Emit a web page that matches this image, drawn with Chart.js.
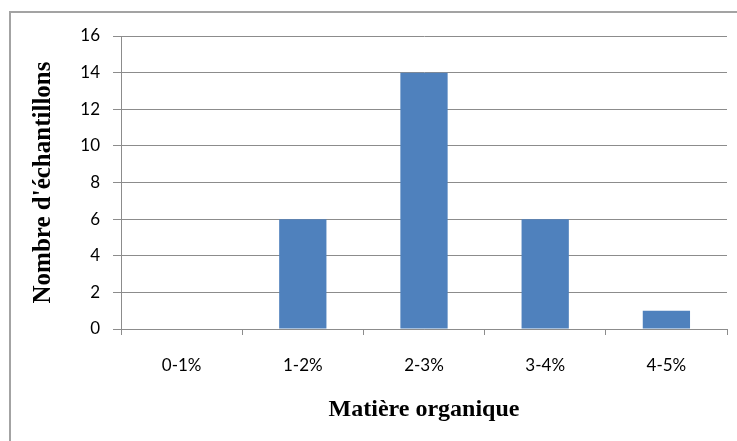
<!DOCTYPE html>
<html>
<head>
<meta charset="utf-8">
<script src="https://cdn.jsdelivr.net/npm/chart.js@4"></script>
<style>
  html, body { margin: 0; padding: 0; background: #fff; overflow: hidden; }
  #frame { position: absolute; left: 9px; top: 11px; width: 800px; height: 500px; border: 2px solid #a3a3a3; }
  #myChart { position: absolute; left: 0; top: 0; }
</style>
</head>
<body>
<div id="frame"></div>
<canvas id="myChart" width="737" height="441"></canvas>
<script>
const categories = ["0-1%", "1-2%", "2-3%", "3-4%", "4-5%"]
const samples = [0, 6, 14, 6, 1]
const yTicks = [0, 2, 4, 6, 8, 10, 12, 14, 16]

const gridGray = "#8c8c8c"
const ctx = document.getElementById("myChart")

let chart = new Chart(ctx, {
  type: "bar",
  data: {
    labels: categories,
    datasets: [{
      data: samples,
      backgroundColor: "#4F81BD",
      barPercentage: 0.39,
      categoryPercentage: 1
    }]
  },
  options: {
    responsive: false,
    animation: false,
    layout: { padding: { top: 36, right: 10, left: 0, bottom: 0 } },
    plugins: {
      legend: { display: false },
      tooltip: { enabled: false }
    },
    scales: {
      x: {
        grid: { drawOnChartArea: false, drawTicks: true, tickLength: 6, color: gridGray },
        border: { color: gridGray },
        ticks: { color: "#000", padding: 20, font: { family: "Lato", size: 17 } },
        title: {
          display: true,
          text: "Matière organique",
          color: "#000",
          font: { family: "Liberation Serif", size: 24, weight: "bold" },
          padding: { top: 0, bottom: 17 }
        },
        afterFit: s => { s.height = 112 }
      },
      y: {
        min: 0,
        max: 16,
        afterBuildTicks: s => { s.ticks = yTicks.map(v => ({ value: v })) },
        grid: { color: gridGray, tickLength: 8 },
        border: { color: gridGray },
        ticks: { color: "#000", padding: 13, font: { family: "Lato", size: 17 } },
        title: {
          display: true,
          text: "Nombre d'échantillons",
          color: "#000",
          font: { family: "Liberation Serif", size: 25, weight: "bold" },
          padding: { top: 29, bottom: 0 }
        },
        afterFit: s => { s.width = 121 }
      }
    }
  }
})
</script>
</body>
</html>
